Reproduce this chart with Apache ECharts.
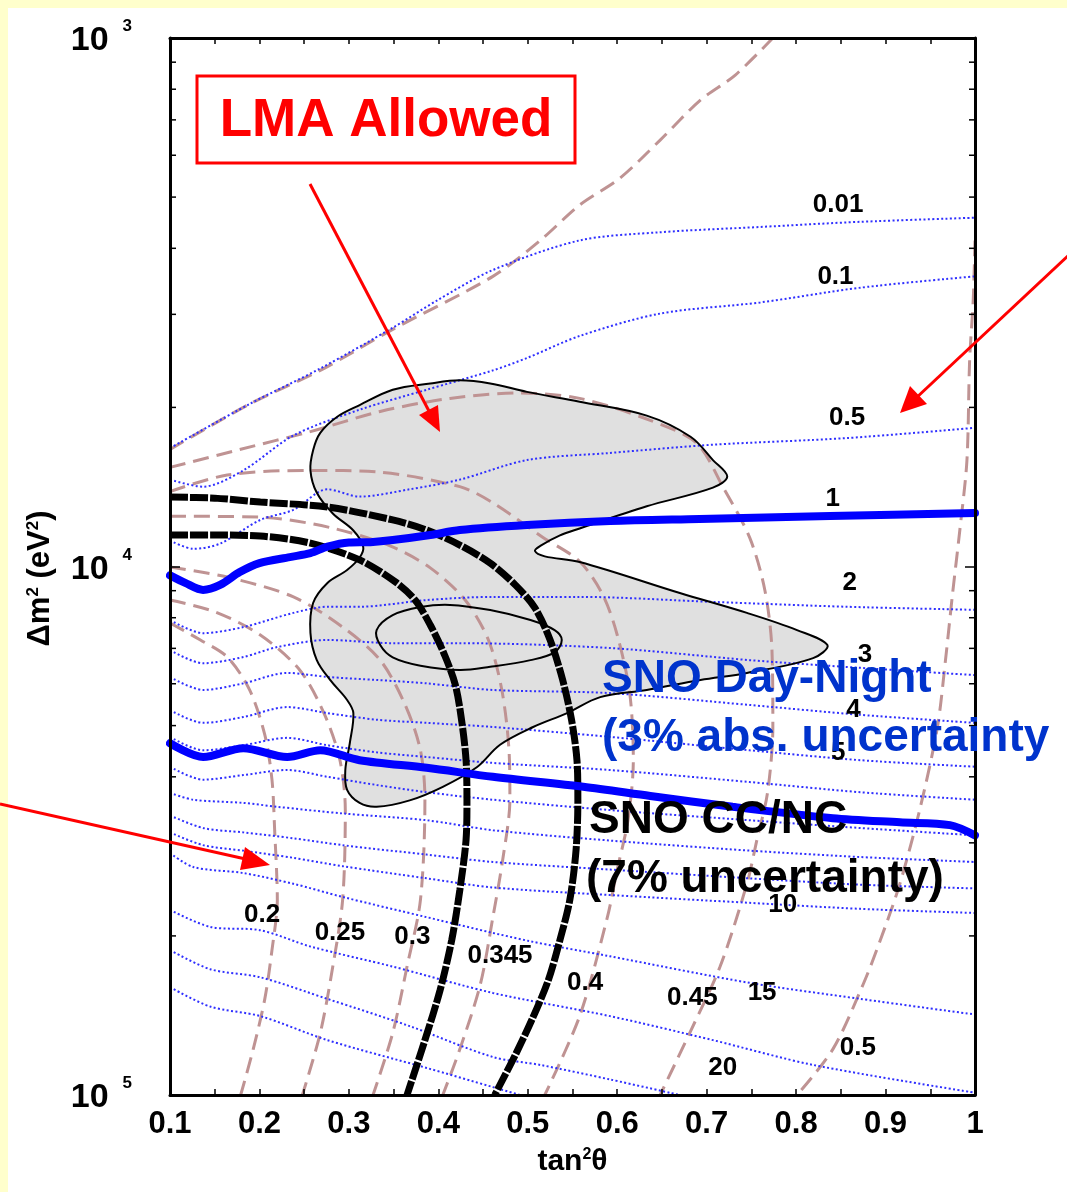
<!DOCTYPE html>
<html><head><meta charset="utf-8">
<script src="https://cdn.jsdelivr.net/npm/echarts@6/dist/echarts.min.js"></script>
<style>
html,body{margin:0;padding:0;background:#ffffcc;overflow:hidden;}
#panel{position:absolute;left:8px;top:8px;width:1059px;height:1184px;background:#fff;}
#chart{position:absolute;left:0;top:0;width:1067px;height:1192px;}
</style></head><body>
<div id="panel"></div><div id="chart"></div>
<script>
// ---------- axis ticks ----------
const yMinorTicks = [2e-5,3e-5,4e-5,5e-5,6e-5,7e-5,8e-5,9e-5,2e-4,3e-4,4e-4,5e-4,6e-4,7e-4,8e-4,9e-4];

// ---------- CC/NC ratio contours (brown dashed) [tan2theta, dm2] ----------
const ccnc020 = [[0.100,7.82e-5],[0.134,7.26e-5],[0.164,6.74e-5],[0.189,5.84e-5],[0.206,4.80e-5],[0.214,3.95e-5],[0.217,3.17e-5],[0.220,2.34e-5],[0.214,1.88e-5],[0.206,1.52e-5],[0.193,1.22e-5],[0.179,1.00e-5]];
const ccnc025 = [[0.100,8.64e-5],[0.150,8.21e-5],[0.201,7.42e-5],[0.245,6.37e-5],[0.273,5.24e-5],[0.290,4.30e-5],[0.296,3.46e-5],[0.293,2.34e-5],[0.282,1.75e-5],[0.268,1.31e-5],[0.248,1.00e-5]];
const ccnc030 = [[0.100,9.98e-5],[0.164,9.55e-5],[0.238,8.76e-5],[0.293,7.68e-5],[0.335,6.65e-5],[0.363,5.47e-5],[0.380,4.49e-5],[0.385,3.62e-5],[0.380,2.34e-5],[0.365,1.75e-5],[0.349,1.31e-5],[0.327,1.00e-5]];
const ccnc0345 = [[0.100,1.245e-4],[0.201,1.24e-4],[0.279,1.185e-4],[0.346,1.094e-4],[0.391,9.94e-5],[0.430,8.64e-5],[0.456,7.26e-5],[0.471,5.84e-5],[0.479,4.49e-5],[0.480,3.62e-5],[0.472,2.79e-5],[0.461,2.17e-5],[0.447,1.62e-5],[0.424,1.22e-5],[0.405,1.00e-5]];
const ccnc040 = [[0.100,1.386e-4],[0.164,1.49e-4],[0.257,1.52e-4],[0.331,1.51e-4],[0.424,1.416e-4],[0.461,1.32e-4],[0.517,1.135e-4],[0.558,1.022e-4],[0.584,8.83e-5],[0.600,7.42e-5],[0.614,5.76e-5],[0.618,4.30e-5],[0.612,3.31e-5],[0.600,2.67e-5],[0.589,2.17e-5],[0.558,1.41e-5],[0.519,1.00e-5]];
const ccnc045 = [[0.100,1.54e-4],[0.178,1.665e-4],[0.257,1.80e-4],[0.335,1.965e-4],[0.413,2.08e-4],[0.491,2.13e-4],[0.558,2.08e-4],[0.637,1.89e-4],[0.689,1.71e-4],[0.718,1.416e-4],[0.748,1.135e-4],[0.765,9.03e-5],[0.773,6.95e-5],[0.774,4.97e-5],[0.768,3.73e-5],[0.756,3.03e-5],[0.745,2.51e-5],[0.715,1.75e-5],[0.681,1.31e-5],[0.648,1.00e-5]];
const ccnc050 = [[1.000,4.14e-4],[0.998,3.19e-4],[0.994,2.46e-4],[0.991,1.59e-4],[0.983,1.17e-4],[0.975,8.91e-5],[0.967,6.65e-5],[0.958,4.97e-5],[0.939,3.51e-5],[0.916,2.51e-5],[0.894,1.96e-5],[0.875,1.62e-5],[0.841,1.22e-5],[0.801,1.00e-5]];
const ccnc050hi = [[0.100,1.665e-4],[0.189,2.03e-4],[0.268,2.35e-4],[0.349,2.81e-4],[0.461,3.54e-4],[0.514,4.14e-4],[0.558,4.83e-4],[0.603,5.43e-4],[0.648,6.41e-4],[0.693,7.63e-4],[0.732,8.51e-4],[0.774,1.00e-3]];

// ---------- SNO CC/NC 7% band (black thick dashed) ----------
const ccncBandLow = [[0.100,1.147e-4],[0.150,1.147e-4],[0.201,1.142e-4],[0.257,1.107e-4],[0.312,1.029e-4],[0.352,9.35e-5],[0.374,8.64e-5],[0.391,7.75e-5],[0.407,6.80e-5],[0.419,5.97e-5],[0.426,5.12e-5],[0.431,4.30e-5],[0.432,3.61e-5],[0.431,3.04e-5],[0.424,2.44e-5],[0.415,1.965e-5],[0.402,1.58e-5],[0.385,1.27e-5],[0.365,1.00e-5]];
const ccncBandHigh = [[0.100,1.353e-4],[0.150,1.347e-4],[0.201,1.324e-4],[0.276,1.296e-4],[0.349,1.225e-4],[0.387,1.172e-4],[0.424,1.098e-4],[0.458,1.015e-4],[0.486,9.23e-5],[0.508,8.35e-5],[0.525,7.26e-5],[0.539,6.10e-5],[0.549,5.12e-5],[0.555,4.30e-5],[0.556,3.61e-5],[0.554,2.91e-5],[0.547,2.34e-5],[0.536,1.965e-5],[0.523,1.65e-5],[0.506,1.405e-5],[0.486,1.19e-5],[0.463,1.00e-5]];

// ---------- SNO Day-Night 3% band (blue thick) ----------
const dnBandUpper = [[0.100,9.62e-5],[0.117,9.31e-5],[0.137,9.03e-5],[0.156,9.23e-5],[0.178,9.76e-5],[0.200,1.015e-4],[0.234,1.042e-4],[0.257,1.06e-4],[0.276,1.090e-4],[0.300,1.110e-4],[0.324,1.112e-4],[0.349,1.122e-4],[0.391,1.147e-4],[0.424,1.172e-4],[0.499,1.198e-4],[0.592,1.219e-4],[0.692,1.23e-4],[0.838,1.246e-4],[1.000,1.262e-4]];
const dnBandLower = [[0.100,4.63e-5],[0.137,4.36e-5],[0.182,4.53e-5],[0.231,4.36e-5],[0.268,4.49e-5],[0.312,4.30e-5],[0.387,4.16e-5],[0.461,4.00e-5],[0.562,3.83e-5],[0.637,3.68e-5],[0.729,3.51e-5],[0.841,3.34e-5],[0.916,3.28e-5],[0.972,3.24e-5],[1.000,3.10e-5]];

// ---------- Day-Night asymmetry contours (blue dotted) ----------
const dn001 = [[0.100,1.675e-4],[0.189,2.03e-4],[0.268,2.37e-4],[0.349,2.83e-4],[0.399,3.19e-4],[0.461,3.64e-4],[0.558,4.14e-4],[0.648,4.29e-4],[0.760,4.39e-4],[0.872,4.49e-4],[1.000,4.57e-4]];
const dn01 = [[0.100,1.46e-4],[0.137,1.416e-4],[0.182,1.52e-4],[0.238,1.77e-4],[0.312,1.98e-4],[0.387,2.16e-4],[0.461,2.35e-4],[0.499,2.48e-4],[0.558,2.73e-4],[0.648,3.01e-4],[0.760,3.16e-4],[0.872,3.37e-4],[1.000,3.54e-4]];
const dn05 = [[0.100,1.12e-4],[0.126,1.08e-4],[0.156,1.105e-4],[0.201,1.225e-4],[0.238,1.28e-4],[0.276,1.40e-4],[0.312,1.356e-4],[0.368,1.40e-4],[0.424,1.46e-4],[0.499,1.59e-4],[0.592,1.64e-4],[0.707,1.70e-4],[0.857,1.75e-4],[1.000,1.83e-4]];
const dn2 = [[0.100,7.92e-5],[0.137,7.48e-5],[0.182,7.68e-5],[0.238,8.17e-5],[0.276,8.39e-5],[0.312,8.39e-5],[0.387,8.64e-5],[0.461,8.76e-5],[0.558,8.76e-5],[0.707,8.57e-5],[0.857,8.39e-5],[1.000,8.28e-5]];
const dn3 = [[0.100,6.95e-5],[0.137,6.56e-5],[0.182,6.74e-5],[0.220,7.04e-5],[0.276,7.26e-5],[0.349,7.16e-5],[0.424,7.16e-5],[0.592,7.01e-5],[0.748,6.65e-5],[0.872,6.43e-5],[1.000,6.23e-5]];
const dn4 = [[0.100,6.18e-5],[0.137,5.84e-5],[0.182,6.01e-5],[0.231,6.29e-5],[0.276,6.18e-5],[0.331,6.10e-5],[0.387,6.01e-5],[0.461,5.84e-5],[0.592,5.76e-5],[0.748,5.47e-5],[0.872,5.24e-5],[1.000,5.06e-5]];
const dn5 = [[0.100,5.35e-5],[0.137,5.06e-5],[0.182,5.19e-5],[0.231,5.42e-5],[0.276,5.28e-5],[0.331,5.13e-5],[0.387,5.06e-5],[0.461,4.97e-5],[0.592,4.76e-5],[0.748,4.49e-5],[0.872,4.30e-5],[1.000,4.18e-5]];
const dn6 = [[0.100,4.76e-5],[0.137,4.49e-5],[0.182,4.59e-5],[0.231,4.74e-5],[0.276,4.59e-5],[0.331,4.45e-5],[0.387,4.36e-5],[0.461,4.25e-5],[0.592,4.12e-5],[0.748,3.91e-5],[0.872,3.74e-5],[1.000,3.62e-5]];
const dn7 = [[0.100,4.18e-5],[0.137,3.95e-5],[0.182,4.03e-5],[0.231,4.12e-5],[0.276,4.00e-5],[0.331,3.86e-5],[0.387,3.74e-5],[0.461,3.62e-5],[0.592,3.46e-5],[0.748,3.31e-5],[0.872,3.20e-5],[1.000,3.10e-5]];
const dn8 = [[0.100,3.73e-5],[0.126,3.62e-5],[0.182,3.57e-5],[0.220,3.51e-5],[0.293,3.41e-5],[0.387,3.31e-5],[0.461,3.17e-5],[0.592,3.03e-5],[0.748,2.90e-5],[0.872,2.82e-5],[1.000,2.76e-5]];
const dn9 = [[0.100,3.38e-5],[0.137,3.20e-5],[0.182,3.14e-5],[0.238,3.06e-5],[0.293,2.97e-5],[0.387,2.85e-5],[0.461,2.76e-5],[0.592,2.67e-5],[0.748,2.57e-5],[0.872,2.50e-5],[1.000,2.46e-5]];
const dn10 = [[0.100,3.14e-5],[0.137,2.97e-5],[0.182,2.90e-5],[0.238,2.81e-5],[0.293,2.71e-5],[0.387,2.57e-5],[0.461,2.47e-5],[0.592,2.39e-5],[0.748,2.31e-5],[0.872,2.25e-5],[1.000,2.21e-5]];
const dn15 = [[0.100,2.87e-5],[0.126,2.70e-5],[0.182,2.63e-5],[0.238,2.51e-5],[0.293,2.37e-5],[0.387,2.17e-5],[0.499,1.96e-5],[0.592,1.83e-5],[0.748,1.63e-5],[0.872,1.52e-5],[1.000,1.42e-5]];
const dn20 = [[0.100,2.24e-5],[0.145,2.08e-5],[0.201,2.05e-5],[0.257,1.91e-5],[0.349,1.75e-5],[0.461,1.56e-5],[0.592,1.41e-5],[0.707,1.27e-5],[0.819,1.14e-5],[1.000,1.01e-5]];
const dn25 = [[0.100,1.88e-5],[0.145,1.73e-5],[0.201,1.67e-5],[0.276,1.52e-5],[0.368,1.35e-5],[0.461,1.18e-5],[0.514,1.14e-5],[0.592,1.07e-5],[0.670,1.00e-5]];
const dn30 = [[0.100,1.60e-5],[0.145,1.47e-5],[0.201,1.41e-5],[0.276,1.27e-5],[0.387,1.125e-5],[0.461,1.035e-5],[0.491,1.00e-5]];

// ---------- LMA allowed region ----------
const lmaRegion = [[0.257,1.52e-4],[0.260,1.66e-4],[0.268,1.79e-4],[0.287,1.92e-4],[0.312,2.02e-4],[0.349,2.16e-4],[0.391,2.22e-4],[0.424,2.25e-4],[0.458,2.22e-4],[0.499,2.14e-4],[0.558,2.05e-4],[0.633,1.93e-4],[0.682,1.76e-4],[0.707,1.59e-4],[0.723,1.48e-4],[0.707,1.41e-4],[0.633,1.30e-4],[0.558,1.18e-4],[0.536,1.145e-4],[0.514,1.094e-4],[0.508,1.07e-4],[0.519,1.045e-4],[0.558,1.02e-4],[0.670,8.91e-5],[0.745,8.17e-5],[0.801,7.58e-5],[0.835,7.10e-5],[0.819,6.71e-5],[0.745,6.29e-5],[0.693,6.10e-5],[0.633,5.84e-5],[0.581,5.66e-5],[0.544,5.28e-5],[0.506,4.97e-5],[0.469,4.60e-5],[0.443,4.17e-5],[0.405,3.83e-5],[0.368,3.61e-5],[0.331,3.51e-5],[0.312,3.57e-5],[0.298,3.78e-5],[0.296,4.12e-5],[0.301,4.63e-5],[0.305,5.28e-5],[0.298,5.59e-5],[0.279,6.10e-5],[0.264,6.66e-5],[0.257,7.49e-5],[0.260,8.53e-5],[0.276,9.31e-5],[0.298,9.85e-5],[0.312,1.04e-4],[0.316,1.09e-4],[0.305,1.17e-4],[0.282,1.26e-4],[0.264,1.38e-4]];
const lmaInner = [[0.331,7.58e-5],[0.349,8.09e-5],[0.380,8.38e-5],[0.413,8.46e-5],[0.458,8.27e-5],[0.503,7.92e-5],[0.530,7.58e-5],[0.538,7.26e-5],[0.530,6.88e-5],[0.503,6.65e-5],[0.458,6.46e-5],[0.424,6.37e-5],[0.380,6.49e-5],[0.349,6.73e-5],[0.335,7.10e-5]];

// ---------- contour labels ----------
const dnLabelText = ['0.01','0.1','0.5','1','2','3','4','5','10','15','20'];
const dnLabelPos = [[0.847,4.83e-4],[0.844,3.54e-4],[0.857,1.91e-4],[0.841,1.34e-4],[0.860,9.31e-5],[0.877,6.80e-5],[0.864,5.35e-5],[0.847,4.45e-5],[0.785,2.29e-5],[0.762,1.56e-5],[0.718,1.125e-5]];
const ccncLabelText = ['0.2','0.25','0.3','0.345','0.4','0.45','0.5'];
const ccncLabelPos = [[0.203,2.19e-5],[0.290,2.03e-5],[0.371,1.99e-5],[0.469,1.83e-5],[0.564,1.63e-5],[0.684,1.53e-5],[0.869,1.23e-5]];

// ================= rendering =================
const FF = '"Liberation Sans", Arial, Helvetica, sans-serif';
const chart = echarts.init(document.getElementById('chart'), null, {renderer:'canvas'});

const brown = {color:'#bf9393', width:3, type:[16,8]};
const dotted = {color:'#2f2fff', width:2, type:[2,2.4]};

function lineS(data, style, z){
  return {type:'line', data, showSymbol:false, symbol:'none', smooth:0.3, lineStyle:style, z, silent:true, clip:true, xAxisIndex:0, yAxisIndex:0};
}
function polyS(points, style, z){
  return {type:'custom', data: points, z, silent:true, xAxisIndex:0, yAxisIndex:0,
    renderItem:(params, api)=>{
      if (params.dataIndex !== 0) return null;
      const pts = points.map(p=>api.coord(p));
      return {type:'polygon', shape:{points:pts, smooth:0.35}, style};
    }};
}
function labelS(pos, text, z){
  return {type:'custom', xAxisIndex:0, yAxisIndex:0, z, silent:true, data: pos,
    renderItem:(params, api)=>{
      const p = api.coord([api.value(0), api.value(1)]);
      return {type:'text', x:p[0], y:p[1], style:{text:text[params.dataIndex], fontSize:26, fontWeight:'bold', fontFamily:FF, fill:'#000', align:'center', verticalAlign:'middle'}};
    }};
}

const series = [];
series.push(polyS(lmaRegion, {fill:'#e0e0e0', stroke:'none'}, 1));
[ccnc020,ccnc025,ccnc030,ccnc0345,ccnc040,ccnc045,ccnc050,ccnc050hi].forEach(d=>series.push(lineS(d, brown, 2)));
[dn001,dn01,dn05,dn2,dn3,dn4,dn5,dn6,dn7,dn8,dn9,dn10,dn15,dn20,dn25,dn30].forEach(d=>series.push(lineS(d, dotted, 3)));
series.push(polyS(lmaRegion, {fill:'none', stroke:'#000', lineWidth:2}, 4));
series.push(polyS(lmaInner, {fill:'none', stroke:'#000', lineWidth:2}, 4));
[ccncBandLow, ccncBandHigh].forEach(d=>series.push(lineS(d, {color:'#000', width:7, type:[18,2]}, 5)));
[dnBandUpper, dnBandLower].forEach(d=>series.push(lineS(d, {color:'#0000ff', width:8, cap:'round'}, 6)));
series.push(labelS(dnLabelPos, dnLabelText, 7));
series.push(labelS(ccncLabelPos, ccncLabelText, 7));
// minor log ticks on left and right frame
series.push({type:'custom', data: yMinorTicks.map(v=>[0.1, v]), z:9, silent:true, xAxisIndex:0, yAxisIndex:0,
  renderItem:(params, api)=>{
    const v = api.value(1);
    const a = api.coord([0.1, v]), b = api.coord([1.0, v]);
    return {type:'group', children:[
      {type:'line', shape:{x1:a[0], y1:a[1], x2:a[0]+6, y2:a[1]}, style:{stroke:'#000', lineWidth:1.5}},
      {type:'line', shape:{x1:b[0]-6, y1:b[1], x2:b[0], y2:b[1]}, style:{stroke:'#000', lineWidth:1.5}}
    ]};
  }});

const tickLabel = {fontSize:31, fontWeight:'bold', fontFamily:FF, color:'#000'};
const xBase = {type:'value', min:0.1, max:1, interval:0.1, z:10,
  axisLine:{show:true, onZero:false, lineStyle:{color:'#000', width:3}},
  axisTick:{show:true, inside:true, length:6, lineStyle:{color:'#000', width:1.5}},
  minorTick:{show:true, splitNumber:2, length:6, lineStyle:{color:'#000', width:1.5}},
  splitLine:{show:false}, minorSplitLine:{show:false}};
const yBase = {type:'log', logBase:10, min:1e-5, max:1e-3, z:10,
  axisLine:{show:true, onZero:false, lineStyle:{color:'#000', width:3}},
  axisTick:{show:true, inside:true, length:10, lineStyle:{color:'#000', width:1.5}},
  splitLine:{show:false}};

const option = {
  animation:false,
  backgroundColor:'transparent',
  grid:{left:170, right:92, top:38, bottom:97, containLabel:false},
  xAxis:[
    Object.assign({}, xBase, {position:'bottom',
      axisLabel:Object.assign({margin:14, formatter:v=>String(+v.toFixed(2))}, tickLabel),
      name:'{a|tan}{s|2}{a|θ}', nameLocation:'middle', nameGap:52,
      nameTextStyle:{rich:{a:{fontSize:30, fontWeight:'bold', fontFamily:FF, color:'#000'}, s:{fontSize:16, fontWeight:'bold', fontFamily:FF, color:'#000', verticalAlign:'top'}}}
    }),
    Object.assign({}, xBase, {position:'top', axisLabel:{show:false}})
  ],
  yAxis:[
    Object.assign({}, yBase, {position:'left',
      axisLabel:{margin:38, formatter:v=>'{b|10}{s|'+Math.round(-Math.log10(v))+'}',
        rich:{b:{fontSize:34, fontWeight:'bold', fontFamily:FF, color:'#000', padding:[6,0,0,0]},
              s:{fontSize:17, fontWeight:'bold', fontFamily:FF, color:'#000', verticalAlign:'top', padding:[0,0,0,14]}}},
      name:'{a|Δm}{s|2}{a| (eV}{s|2}{a|)}', nameLocation:'middle', nameRotate:90, nameGap:114,
      nameTextStyle:{padding:[0,24,0,0], rich:{a:{fontSize:31, fontWeight:'bold', fontFamily:FF, color:'#000'}, s:{fontSize:17, fontWeight:'bold', fontFamily:FF, color:'#000', verticalAlign:'top'}}}
    }),
    Object.assign({}, yBase, {position:'right', axisLabel:{show:false}})
  ],
  series,
  graphic:[
    {type:'rect', z:100, shape:{x:197, y:76, width:378, height:87}, style:{fill:'#fff', stroke:'#ff0000', lineWidth:3}},
    {type:'text', z:101, x:386, y:121, style:{text:'LMA Allowed', fontSize:53, fontWeight:'bold', fontFamily:FF, fill:'#ff0000', align:'center', verticalAlign:'middle'}},
    {type:'line', z:100, shape:{x1:310, y1:184, x2:430, y2:413}, style:{stroke:'#ff0000', lineWidth:3}},
    {type:'polygon', z:100, shape:{points:[[440,432],[419,415],[438,405]]}, style:{fill:'#ff0000'}},
    {type:'line', z:100, shape:{x1:1070, y1:254, x2:915, y2:399}, style:{stroke:'#ff0000', lineWidth:3}},
    {type:'polygon', z:100, shape:{points:[[900,413],[910,386],[927,404]]}, style:{fill:'#ff0000'}},
    {type:'line', z:100, shape:{x1:0, y1:804, x2:250, y2:860}, style:{stroke:'#ff0000', lineWidth:3}},
    {type:'polygon', z:100, shape:{points:[[270,865],[240,870],[245,847]]}, style:{fill:'#ff0000'}},
    {type:'text', z:101, x:602, y:679, style:{text:'SNO Day-Night', fontSize:46, fontWeight:'bold', fontFamily:FF, fill:'#0033cc', align:'left', verticalAlign:'middle'}},
    {type:'text', z:101, x:602, y:738, style:{text:'(3% abs. uncertainty', fontSize:46, fontWeight:'bold', fontFamily:FF, fill:'#0033cc', align:'left', verticalAlign:'middle'}},
    {type:'text', z:101, x:589, y:820, style:{text:'SNO CC/NC', fontSize:46, fontWeight:'bold', fontFamily:FF, fill:'#000', align:'left', verticalAlign:'middle'}},
    {type:'text', z:101, x:586, y:879, style:{text:'(7% uncertainty)', fontSize:46, fontWeight:'bold', fontFamily:FF, fill:'#000', align:'left', verticalAlign:'middle'}}
  ]
};
chart.setOption(option);
</script></body></html>
